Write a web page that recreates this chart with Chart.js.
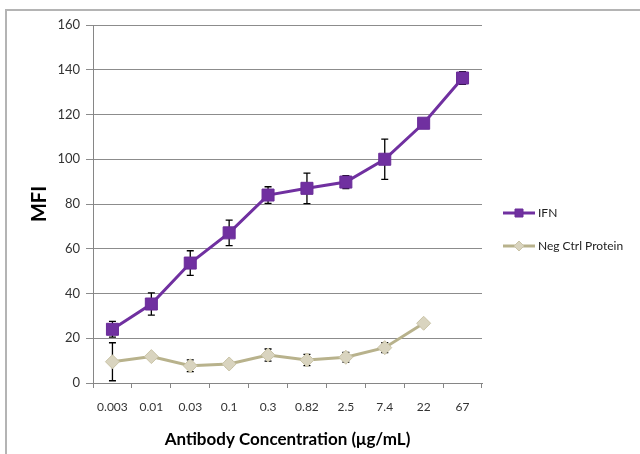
<!DOCTYPE html>
<html>
<head>
<meta charset="utf-8">
<script src="https://cdn.jsdelivr.net/npm/chart.js@4.4.1/dist/chart.umd.min.js"></script>
<style>
  html, body { margin: 0; padding: 0; background: #fff; }
  #wrap { position: relative; width: 640px; height: 454px; }
  #frame { position: absolute; left: 5px; top: 9px; right: 0; bottom: 0;
           border-top: 2px solid #b4b4b4; border-left: 2px solid #b4b4b4; }
  canvas { position: absolute; left: 0; top: 0; }
</style>
</head>
<body>
<div id="wrap">
  <div id="frame"></div>
  <canvas id="mfiChart" width="640" height="454"></canvas>
</div>
<script>
// concentrations (µg/mL)
const concentrations = ["0.003", "0.01", "0.03", "0.1", "0.3", "0.82", "2.5", "7.4", "22", "67"];

// IFN
const ifnValues = [24, 35.3, 53.6, 67.1, 84, 87, 89.8, 100, 116.1, 136.3];
const ifnErrors = [3.5, 5, 5.5, 5.7, 3.7, 6.8, 2.9, 9, 1, 2.8];

// Neg Ctrl Protein (no point at 67)
const negValues = [9.5, 11.8, 7.7, 8.5, 12.5, 10.3, 11.5, 15.8, 26.7, null];
const negErrors = [8.5, 1, 2.6, 1.5, 2.7, 2.5, 2.2, 2.2, 1, 0];

const yTicks = [0, 20, 40, 60, 80, 100, 120, 140, 160];

const FONT = "Lato, 'Open Sans', sans-serif";

// error bars, drawn under the markers
const errorBars = {
  id: "errorBars",
  beforeDatasetsDraw(chart) {
    const ctx = chart.ctx;
    const y = chart.scales.y;
    ctx.save();
    ctx.strokeStyle = "#000";
    ctx.lineWidth = 1.3;
    chart.data.datasets.forEach((ds, i) => {
      const meta = chart.getDatasetMeta(i);
      meta.data.forEach((pt, j) => {
        const v = ds.data[j];
        const e = ds.errors[j];
        if (v == null || !e) return;
        const top = y.getPixelForValue(v + e);
        const bot = y.getPixelForValue(v - e);
        ctx.beginPath();
        ctx.moveTo(pt.x, top); ctx.lineTo(pt.x, bot);
        ctx.moveTo(pt.x - 3.5, top); ctx.lineTo(pt.x + 3.5, top);
        ctx.moveTo(pt.x - 3.5, bot); ctx.lineTo(pt.x + 3.5, bot);
        ctx.stroke();
      });
    });
    ctx.restore();
  }
};

// Excel-like legend: line + marker + label
const sideLegend = {
  id: "sideLegend",
  afterDraw(chart) {
    const ctx = chart.ctx;
    const x0 = chart.chartArea.right + 21;
    const rows = [213, 246];
    ctx.save();
    chart.data.datasets.forEach((ds, i) => {
      const yy = rows[i];
      ctx.strokeStyle = ds.borderColor;
      ctx.lineWidth = 3;
      ctx.beginPath();
      ctx.moveTo(x0, yy); ctx.lineTo(x0 + 32, yy);
      ctx.stroke();
      ctx.fillStyle = ds.pointBackgroundColor;
      ctx.strokeStyle = ds.pointBorderColor;
      ctx.lineWidth = 1;
      ctx.beginPath();
      if (ds.pointStyle === "rect") {
        ctx.rect(x0 + 12, yy - 4, 8, 8);
      } else {
        ctx.moveTo(x0 + 16, yy - 5); ctx.lineTo(x0 + 21, yy);
        ctx.lineTo(x0 + 16, yy + 5); ctx.lineTo(x0 + 11, yy);
        ctx.closePath();
      }
      ctx.fill(); ctx.stroke();
      ctx.fillStyle = "#222";
      ctx.font = "12px " + FONT;
      ctx.textBaseline = "middle";
      ctx.fillText(ds.label, x0 + 35, yy);
    });
    ctx.restore();
  }
};

new Chart(document.getElementById("mfiChart"), {
  type: "line",
  data: {
    labels: concentrations,
    datasets: [
      {
        label: "IFN",
        data: ifnValues,
        errors: ifnErrors,
        borderColor: "#7030A0",
        borderWidth: 3,
        pointStyle: "rect",
        pointRadius: 8.5,
        pointBackgroundColor: "#7030A0",
        pointBorderColor: "#6a2c98",
        pointBorderWidth: 1,
        tension: 0
      },
      {
        label: "Neg Ctrl Protein",
        data: negValues,
        errors: negErrors,
        borderColor: "#B8B28C",
        borderWidth: 3,
        pointStyle: "rectRot",
        pointRadius: 7,
        pointBackgroundColor: "#D9D4BF",
        pointBorderColor: "#C9C3A6",
        pointBorderWidth: 1,
        tension: 0
      }
    ]
  },
  options: {
    responsive: false,
    animation: false,
    layout: { padding: { left: 5, top: 25, right: 158, bottom: 0 } },
    plugins: { legend: { display: false }, tooltip: { enabled: false } },
    scales: {
      x: {
        offset: true,
        grid: { offset: true, drawOnChartArea: false, tickLength: 5, color: "#868686" },
        border: { color: "#868686" },
        ticks: { color: "#333", font: { family: FONT, size: 12 }, padding: 12, maxRotation: 0 },
        title: {
          display: true,
          text: "Antibody Concentration (μg/mL)",
          color: "#000",
          font: { family: FONT, size: 17, weight: "bold" },
          padding: { top: 0, bottom: 4 }
        },
        afterFit(s) { s.height = 71; }
      },
      y: {
        min: 0,
        max: 160,
        afterBuildTicks(s) { s.ticks = yTicks.map(v => ({ value: v })); },
        grid: { color: "#8c8c8c", tickLength: 7 },
        border: { color: "#868686" },
        ticks: { color: "#333", font: { family: FONT, size: 13 }, padding: 6 },
        title: {
          display: true,
          text: "MFI",
          color: "#000",
          font: { family: FONT, size: 20, weight: "bold" },
          padding: { top: 23, bottom: 0 }
        },
        afterFit(s) { s.width = 88; }
      }
    }
  },
  plugins: [errorBars, sideLegend]
});
</script>
</body>
</html>
